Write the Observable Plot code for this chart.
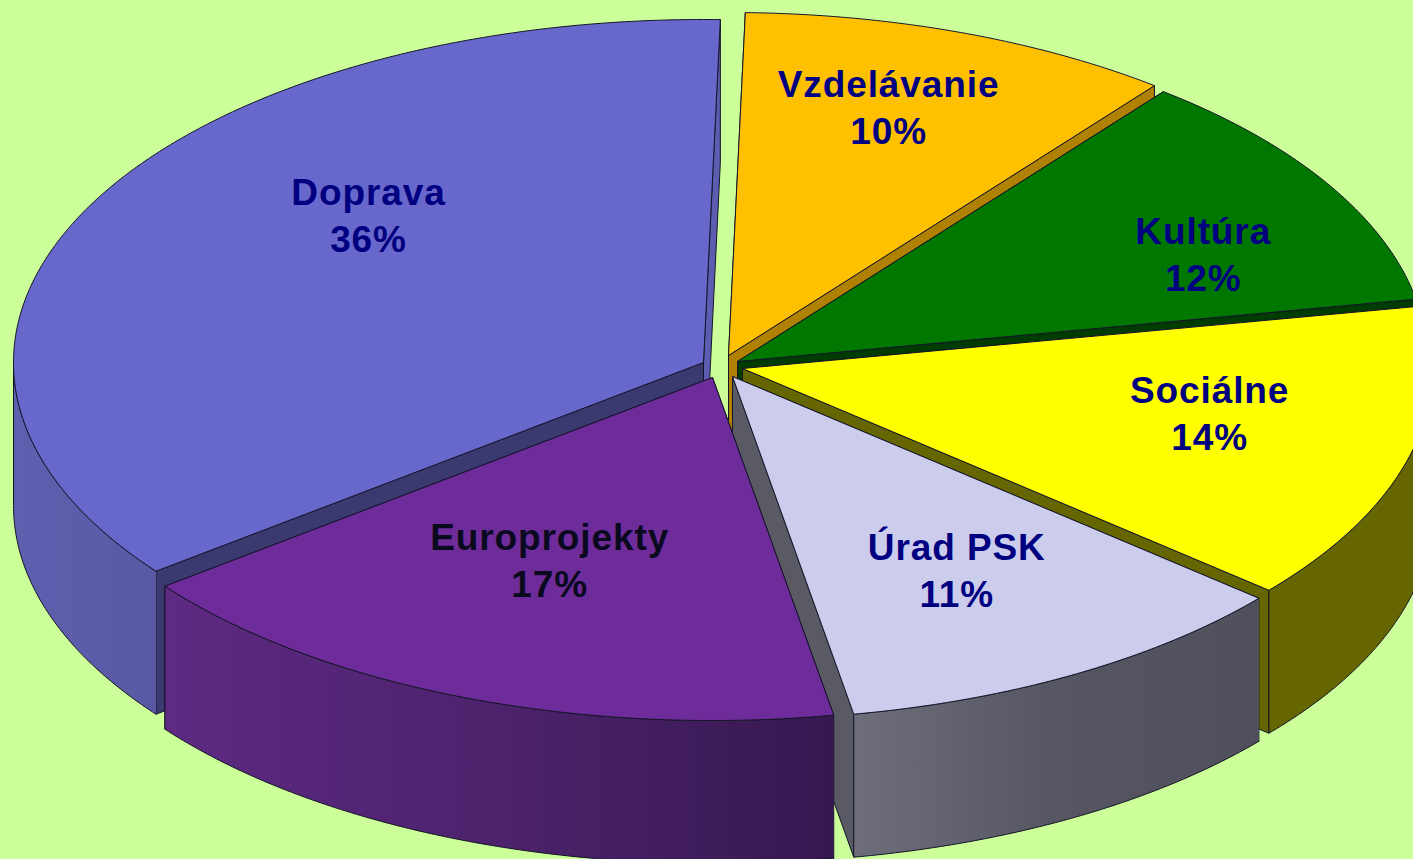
<!DOCTYPE html>
<html><head><meta charset="utf-8">
<script src="https://cdn.jsdelivr.net/npm/d3@7"></script>
<script src="https://cdn.jsdelivr.net/npm/@observablehq/plot@0.6"></script>
<style>
html,body{margin:0;padding:0;background:#ccff99;overflow:hidden}
svg{display:block;background:#ccff99}
.lab text{letter-spacing:.9px}
</style></head><body><div id="c"></div>
<script>
// Data, clockwise from the top of the pie
const categories = ["Vzdelávanie","Kultúra","Sociálne","Úrad PSK","Europrojekty","Doprava"];
const shares = [10.2, 11.5, 14.1, 11, 17.4, 35.8];

// Colours
const topColors   = ["#ffc000","#007800","#ffff00","#ccccec","#6e2c9a","#6868cc"];
const wallStart   = ["#b08000","#003c00","#666600","#6e6e7a","#5e2a82","#5f5fb0"];
const wallEnd     = ["#b08000","#003c00","#666600","#50505c","#361850","#5858a4"];
const wallMidAt   = [0.5,0.5,0.5,0.8,0.45,0.5];
const endFace     = ["#b08000","#003c00","#666600","#5a5a64","#34164f","#5c5cb0"];
const startFace   = ["#b08000","#003c00","#666600","#50505c","#5e2a82","#3a3a70"];
const textColors  = ["#000080","#000080","#000080","#000080","#0a0a1e","#000080"];

// Pie projection layout: each exploded slice's apex, shared radii and thickness
const W = 1413, H = 859;
const apexX = [728,737,742,732,712,703];
const apexY = [355,361,368,376,377,362];
const rx = 690, ry = 343, depth = 143, firstAngle = 1.4;
const labelX = [0.232,0.675,0.677,0.325,-0.236,-0.4855];
const labelY = [-0.729,-0.318,0.126,0.560,0.528,-0.434];

const rad = d => d * Math.PI / 180;
const total = d3.sum(shares);
let running = firstAngle;
const slices = categories.map((name, i) => {
  const a0 = running, a1 = running + shares[i] / total * 360;
  running = a1;
  return {name, i, a0, a1, ax: apexX[i], ay: apexY[i]};
});
const rim = (s, a, dz = 0) => ({x: s.ax + rx * Math.sin(rad(a)), y: s.ay - ry * Math.cos(rad(a)) + dz});
const arc = (s, a0, a1, dz = 0) => {
  const n = Math.max(2, Math.ceil(Math.abs(a1 - a0) * 2));
  return d3.range(n + 1).map(k => rim(s, a0 + (a1 - a0) * k / n, dz));
};
const poly = (points, fill) => Plot.line(points, {x: "x", y: "y", fill, stroke: "#15152a", strokeWidth: 1, strokeLinejoin: "round"});

const defs = () => {
  const d = d3.create("svg:defs");
  slices.forEach(s => {
    const g = d.append("linearGradient").attr("id", "wall" + s.i).attr("x1", 0).attr("x2", 1).attr("y1", 0).attr("y2", 0);
    g.append("stop").attr("offset", 0).attr("stop-color", wallStart[s.i]);
    g.append("stop").attr("offset", 0.5).attr("stop-color", d3.interpolateRgb(wallStart[s.i], wallEnd[s.i])(wallMidAt[s.i]));
    g.append("stop").attr("offset", 1).attr("stop-color", wallEnd[s.i]);
  });
  return d.node();
};

// Painter's order, back to front
const order = [5, 0, 1, 2, 3, 4];
const pieMarks = order.flatMap(i => {
  const s = slices[i], apex = {x: s.ax, y: s.ay}, low = {x: s.ax, y: s.ay + depth};
  const marks = [
    poly([apex, rim(s, s.a0), rim(s, s.a0, depth), low, apex], startFace[i]),
    poly([apex, rim(s, s.a1), rim(s, s.a1, depth), low, apex], endFace[i])
  ];
  const w0 = Math.max(s.a0, 90), w1 = Math.min(s.a1, 270);
  if (w1 > w0) marks.push(poly([...arc(s, w0, w1), ...arc(s, w1, w0, depth)], `url(#wall${i})`));
  marks.push(poly([apex, ...arc(s, s.a0, s.a1), apex], topColors[i]));
  return marks;
});

const labels = slices.map(s => ({
  x: s.ax + labelX[s.i] * rx,
  y: s.ay + labelY[s.i] * ry,
  text: `${s.name}\n${Math.round(shares[s.i])}%`,
  color: textColors[s.i]
}));

document.getElementById("c").append(Plot.plot({
  width: W, height: H, margin: 0,
  style: {background: "#ccff99", overflow: "hidden"},
  x: {domain: [0, W], axis: null},
  y: {domain: [H, 0], axis: null},
  marks: [
    defs,
    ...pieMarks,
    Plot.text(labels, {x: "x", y: "y", text: "text", fill: "color", fontSize: 37, fontWeight: "bold",
      fontFamily: "Liberation Sans", lineHeight: 1.27, className: "lab"})
  ]
}));
</script></body></html>
